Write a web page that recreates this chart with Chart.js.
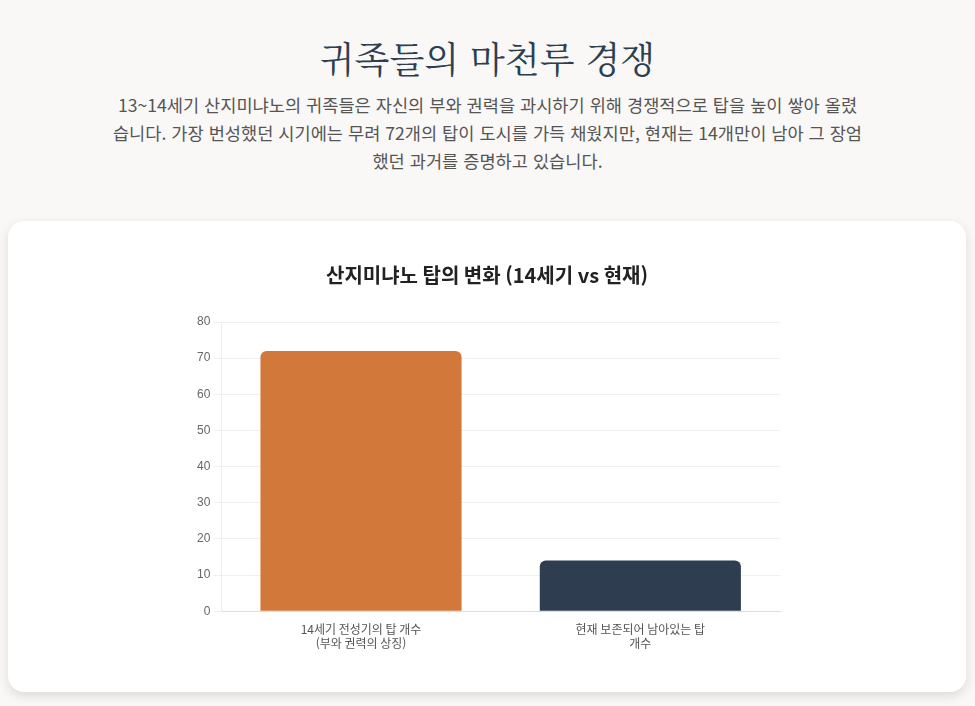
<!DOCTYPE html>
<html lang="ko">
<head>
<meta charset="utf-8">
<script src="https://cdn.jsdelivr.net/npm/chart.js@4.4.1/dist/chart.umd.min.js"></script>
<style>
  html, body { margin: 0; padding: 0; }
  body {
    background: #f9f8f6;
    width: 975px; height: 706px; overflow: hidden;
    font-family: "Noto Sans CJK KR", "Noto Sans", sans-serif;
  }
  h1 {
    margin: 0; position: absolute; top: 30px; left: 0; width: 975px;
    text-align: center; font-weight: 400; font-size: 36px; line-height: 56px;
    color: #2c3e50;
    font-family: "Noto Serif CJK KR", "Noto Serif KR", "DejaVu Serif", serif;
  }
  p.sub {
    position: absolute; top: 91px; left: 111px; width: 753px; margin: 0;
    text-align: center; font-size: 17.6px; line-height: 28px; color: #555;
  }
  .card {
    position: absolute; left: 8px; top: 221px; width: 958px; height: 471px;
    background: #fff; border-radius: 16px;
    box-shadow: 0 4px 12px rgba(0,0,0,0.12);
  }
  .chart-box {
    position: absolute; left: 166px; top: 22px; width: 626px; height: 431px;
  }
</style>
</head>
<body>
<h1>귀족들의 마천루 경쟁</h1>
<p class="sub">13~14세기 산지미냐노의 귀족들은 자신의 부와 권력을 과시하기 위해 경쟁적으로 탑을 높이 쌓아 올렸습니다. 가장 번성했던 시기에는 무려 72개의 탑이 도시를 가득 채웠지만, 현재는 14개만이 남아 그 장엄했던 과거를 증명하고 있습니다.</p>
<div class="card">
  <div class="chart-box"><canvas id="c"></canvas></div>
</div>
<script>
const categories = [
  ["14세기 전성기의 탑 개수", "(부와 권력의 상징)"],
  ["현재 보존되어 남아있는 탑", "개수"]
];
const towerCounts = [72, 14];
const barColors = ["#d2783b", "#2e3e50"];
const chartTitle = "산지미냐노 탑의 변화 (14세기 vs 현재)";

new Chart(document.getElementById('c'), {
  type: 'bar',
  data: {
    labels: categories,
    datasets: [{
      label: '탑 개수',
      data: towerCounts,
      backgroundColor: barColors,
      borderRadius: 6,
      borderSkipped: 'bottom'
    }]
  },
  options: {
    responsive: true,
    maintainAspectRatio: false,
    animation: false,
    layout: { padding: 20 },
    plugins: {
      legend: { display: false },
      title: {
        display: true, text: chartTitle,
        font: { size: 20, weight: 'bold', family: '"Noto Sans CJK KR", sans-serif' },
        color: '#222', padding: { top: 0, bottom: 35 }
      },
      tooltip: { enabled: false }
    },
    scales: {
      x: {
        grid: { display: false },
        border: { color: '#ddd' },
        ticks: { color: '#555', font: { size: 12, family: '"Noto Sans CJK KR", sans-serif' } }
      },
      y: {
        beginAtZero: true, max: 80,
        ticks: { stepSize: 10, color: '#666', font: { size: 12, family: 'Arial, "Liberation Sans", sans-serif' } },
        grid: { color: '#f0f0f0', drawTicks: true },
        border: { color: '#eee' }
      }
    }
  }
});
</script>
</body>
</html>
